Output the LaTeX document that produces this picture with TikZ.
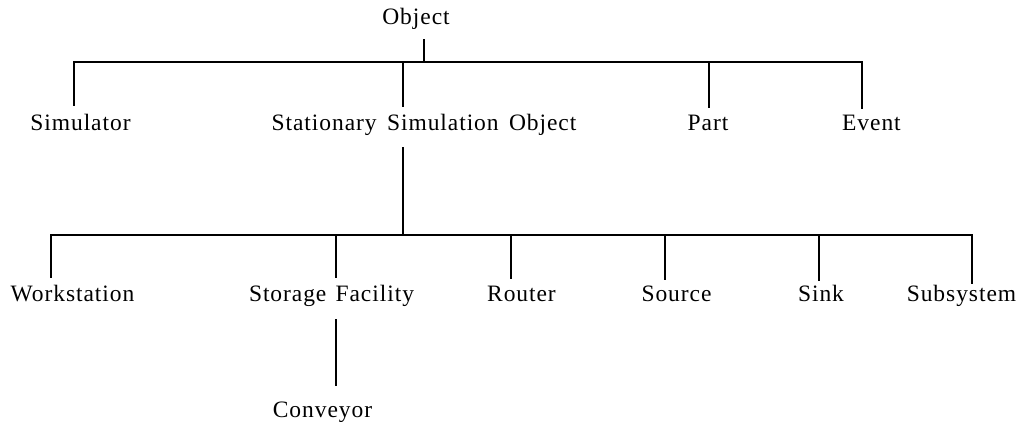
\documentclass[tikz,border=0pt]{standalone}
\usepackage{fontspec}
\setmainfont{Liberation Serif}[LetterSpace=4]
\begin{document}
\begin{tikzpicture}[x=1pt,y=-1pt,
  lbl/.style={anchor=base,inner sep=0pt,font=\fontsize{23.5}{27}\selectfont},
  conn/.style={line width=1.8pt,line cap=rect}]
\useasboundingbox (0,0) rectangle (1021,422);
% labels
\node[lbl] (obj) at (416,25) {Object};
\node[lbl] (sim) at (80.5,131) {Simulator};
\node[lbl] (sso) at (424,131) {Stationary\hspace{0.15em} Simulation\hspace{0.15em} Object};
\node[lbl] (part) at (708,131) {Part};
\node[lbl] (event) at (871.5,131) {Event};
\node[lbl] (ws) at (72.5,302) {Workstation};
\node[lbl] (sf) at (331.5,302) {Storage\hspace{0.1em} Facility};
\node[lbl] (router) at (521.5,302) {Router};
\node[lbl] (source) at (676.5,302) {Source};
\node[lbl] (sink) at (821,302) {Sink};
\node[lbl] (subsys) at (961.5,302) {Subsystem};
\node[lbl] (conv) at (322.5,417) {Conveyor};
% junction coordinates
\coordinate (o1) at (424,40);
\coordinate (o2) at (424,62);
\coordinate (b1) at (74,62);
\coordinate (b2) at (862,62);
\coordinate (s1) at (74,105);
\coordinate (ss1) at (403,62);
\coordinate (ss2) at (403,106);
\coordinate (p1) at (709,62);
\coordinate (p2) at (709,107);
\coordinate (e2) at (862,108);
\coordinate (d1) at (403,148);
\coordinate (d2) at (403,235);
\coordinate (l1) at (51,235);
\coordinate (l2) at (972,235);
\coordinate (w2) at (51,277);
\coordinate (f1) at (336,235);
\coordinate (f2) at (336,277);
\coordinate (r1) at (511,235);
\coordinate (r2) at (511,278);
\coordinate (so1) at (665,235);
\coordinate (so2) at (665,279);
\coordinate (si1) at (819,235);
\coordinate (si2) at (819,280);
\coordinate (su2) at (972,283);
\coordinate (c1) at (336,320);
\coordinate (c2) at (336,385);
% connectors
\draw[conn] (o1) -- (o2);
\draw[conn] (s1) -- (b1) -- (b2) -- (e2);
\draw[conn] (ss1) -- (ss2);
\draw[conn] (p1) -- (p2);
\draw[conn] (d1) -- (d2);
\draw[conn] (w2) -- (l1) -- (l2) -- (su2);
\draw[conn] (f1) -- (f2);
\draw[conn] (r1) -- (r2);
\draw[conn] (so1) -- (so2);
\draw[conn] (si1) -- (si2);
\draw[conn] (c1) -- (c2);
\end{tikzpicture}
\end{document}
